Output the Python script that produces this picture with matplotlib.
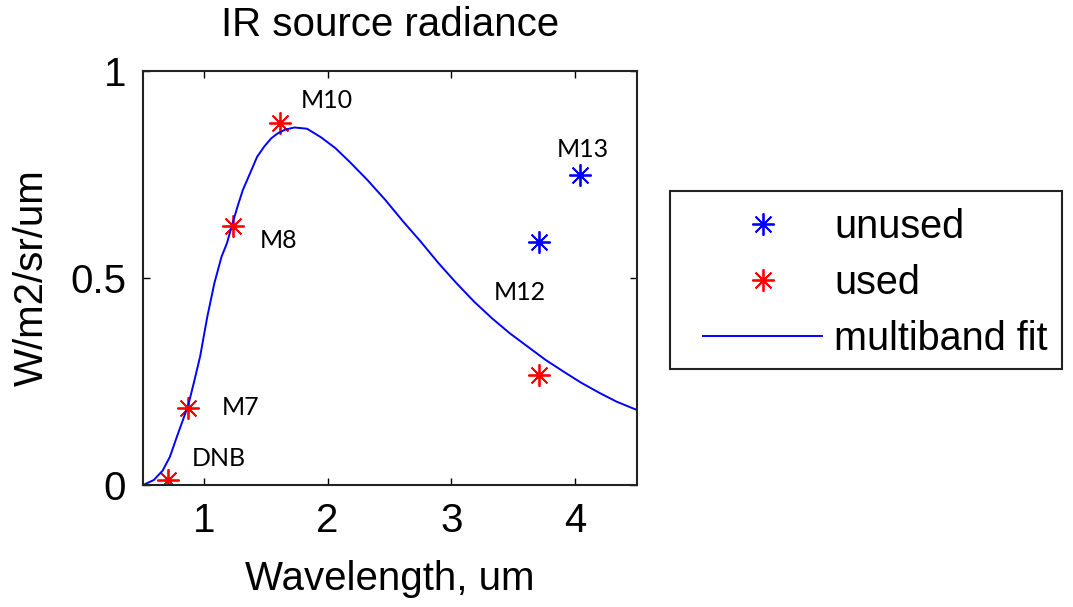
import numpy as np
import matplotlib.pyplot as plt
from matplotlib.patches import Rectangle

# multiband fit curve
fit_x = [0.511, 0.597, 0.669, 0.727, 0.784, 0.842, 0.879, 0.919, 0.971, 1.029,
         1.086, 1.144, 1.187, 1.230, 1.273, 1.316, 1.374, 1.431, 1.489, 1.546,
         1.604, 1.661, 1.733, 1.834, 1.949, 2.064, 2.179, 2.323, 2.467, 2.611,
         2.754, 2.898, 3.042, 3.186, 3.330, 3.473, 3.617, 3.761, 3.905, 4.048,
         4.192, 4.336, 4.500]
fit_y = [0.0, 0.012, 0.035, 0.068, 0.117, 0.165, 0.197, 0.245, 0.310, 0.406,
         0.487, 0.551, 0.583, 0.628, 0.672, 0.712, 0.752, 0.792, 0.817, 0.837,
         0.850, 0.858, 0.863, 0.860, 0.839, 0.813, 0.780, 0.736, 0.688, 0.636,
         0.587, 0.535, 0.487, 0.442, 0.402, 0.366, 0.334, 0.302, 0.274, 0.247,
         0.223, 0.201, 0.181]

# band measurements
used_x = [0.71, 0.874, 1.236, 1.614, 3.71]
used_y = [0.012, 0.186, 0.624, 0.875, 0.265]
unused_x = [3.71, 4.04]
unused_y = [0.586, 0.749]

band_names = ["DNB", "M7", "M8", "M10", "M12", "M13"]
label_x = [0.9, 1.147, 1.45, 1.78, 3.34, 3.85]
label_y = [0.063, 0.188, 0.59, 0.928, 0.465, 0.81]

plt.rcParams['font.family'] = ['Liberation Sans', 'DejaVu Sans']

fig = plt.figure(figsize=(10.73, 6.07), dpi=100)
ax = fig.add_axes([0.1333, 0.201, 0.4604, 0.6825])

star = (8, 2, 0)
ax.plot(unused_x, unused_y, linestyle='none', marker=star, markersize=16,
        markeredgecolor='b', markeredgewidth=1.3, color='b', label='unused')
ax.plot(used_x, used_y, linestyle='none', marker=star, markersize=16,
        markeredgecolor='r', markeredgewidth=1.3, color='r', label='used')
ax.plot(fit_x, fit_y, color='b', lw=1.4, label='multiband fit')
# center dots on the asterisks
ax.plot(unused_x, unused_y, linestyle='none', marker='o', markersize=3.5, color='b')
ax.plot(used_x, used_y, linestyle='none', marker='o', markersize=3.5, color='r')

for name, lx, ly in zip(band_names, label_x, label_y):
    ax.text(lx, ly, name, fontsize=18, family=['Lato', 'DejaVu Sans'],
            va='center', ha='left')

ax.set_xlim(0.51, 4.5)
ax.set_ylim(0, 1)
ax.set_xticks([1, 2, 3, 4])
ax.set_yticks([0, 0.5, 1])
ax.set_yticklabels(['0', '0.5', '1'])
ax.tick_params(direction='in', length=5, width=1, labelsize=29, pad=12,
               top=True, right=True)
for s in ax.spines.values():
    s.set_linewidth(1.5)
    s.set_color('#222222')

ax.set_title('IR source radiance', fontsize=29, pad=25)
ax.set_xlabel('Wavelength, um', fontsize=29, labelpad=15)
ax.set_ylabel('W/m2/sr/um', fontsize=29, labelpad=14)

# legend, frame drawn separately to get the wide left margin
handles, labels = ax.get_legend_handles_labels()
leg = fig.legend(handles, labels, loc='center left', bbox_to_anchor=(0.6555, 0.534),
                 fontsize=28.5, frameon=False, handlelength=3.0, handletextpad=0.3,
                 labelspacing=0.45, borderpad=0, borderaxespad=0)
fig.patches.append(Rectangle((670 / 1073, 238 / 607), 392 / 1073, 178 / 607,
                             transform=fig.transFigure, fill=False,
                             edgecolor='#222222', linewidth=1.5))

fig.savefig('out.png', dpi=100)
